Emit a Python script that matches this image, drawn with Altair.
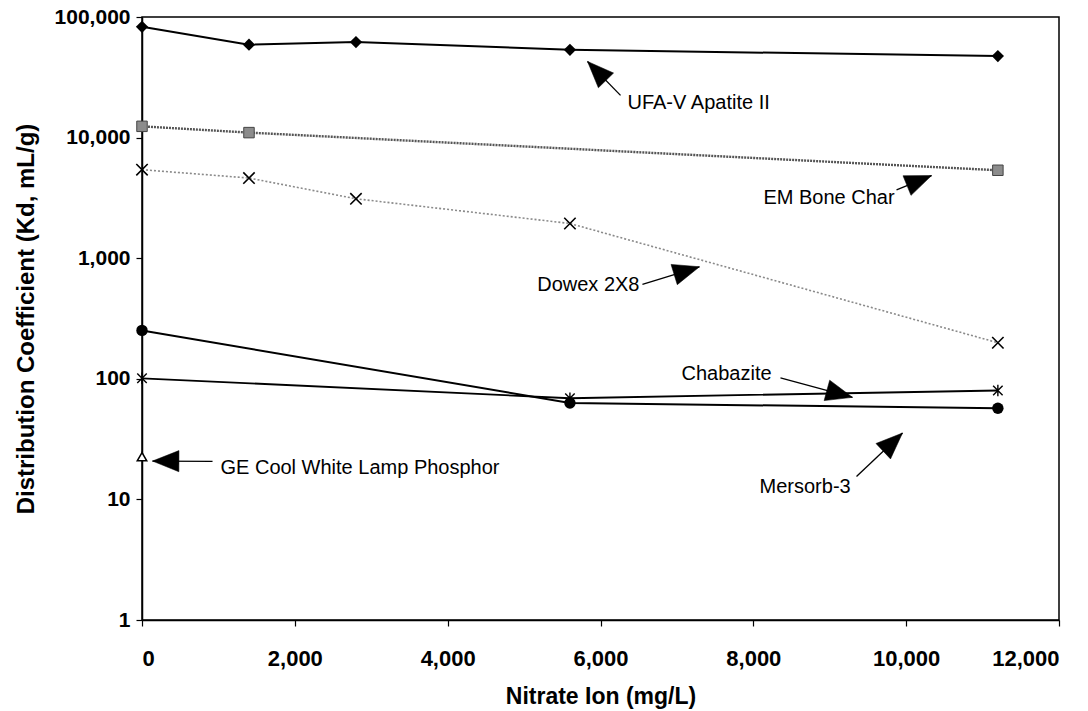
import math
import altair as alt
import pandas as pd

# ---------------- data ----------------
ufa_x = [0, 1400, 2800, 5600, 11200]
ufa_y = [83000, 59000, 62000, 53500, 47400]

bone_x = [0, 1400, 11200]
bone_y = [12400, 11000, 5360]

dowex_x = [0, 1400, 2800, 5600, 11200]
dowex_y = [5420, 4620, 3110, 1940, 199]

chab_x = [0, 5600, 11200]
chab_y = [101, 69, 80]

mers_x = [0, 5600, 11200]
mers_y = [252, 63, 57]

ge_x = [0]
ge_y = [22.6]

# annotations (data coordinates)
ann_label = ["UFA-V Apatite II", "EM Bone Char", "Dowex 2X8", "Chabazite",
             "Mersorb-3", "GE Cool White Lamp Phosphor"]
ann_text_x = [6353, 9848, 6510, 8239, 9274, 1027]
ann_text_y = [19300, 3160, 597, 109, 12.6, 18.2]
ann_align = ["left", "right", "right", "right", "right", "left"]
ann_tail_x = [6262, 9874, 6549, 8355, 9350, 923]
ann_tail_y = [22400, 3690, 608, 102, 15.5, 20.7]
ann_tip_x = [5830, 10332, 7295, 9297, 9952, 137]
ann_tip_y = [42800, 4840, 849, 70.2, 35.5, 20.8]

x_ticks = [0, 2000, 4000, 6000, 8000, 10000, 12000]
y_ticks = [1, 10, 100, 1000, 10000, 100000]

X_TITLE = "Nitrate Ion (mg/L)"
Y_TITLE = "Distribution Coefficient (Kd, mL/g)"

# ---------------- layout ----------------
W, H = 917, 603
FONT = "Liberation Sans"

xs = alt.Scale(domain=[0, 12000], nice=False)
ys = alt.Scale(type="log", domain=[1, 100000], nice=False)

X_AX = alt.Axis(values=x_ticks, labelExpr="format(datum.value, ',')", grid=False,
                tickSize=6, labelPadding=22, titlePadding=16,
                labelFontSize=22, titleFontSize=23)
Y_AX = alt.Axis(values=y_ticks, labelExpr="format(datum.value, ',')", grid=False,
                tickSize=6, labelPadding=6, titlePadding=16,
                labelFontSize=21, titleFontSize=24)


def X(field):
    return alt.X(field, scale=xs, axis=X_AX, title=X_TITLE)


def Y(field):
    return alt.Y(field, scale=ys, axis=Y_AX, title=Y_TITLE)


def sx(v):
    return v / 12000 * W


def sy(v):
    return (5 - math.log10(v)) / 5 * H


def series_df(xv, yv):
    return pd.DataFrame({"x": xv, "y": yv})


def line_layer(df, color, width, dash=None):
    kw = dict(color=color, strokeWidth=width, clip=False)
    if dash:
        kw["strokeDash"] = dash
    return alt.Chart(df).mark_line(**kw).encode(x=X("x:Q"), y=Y("y:Q"))


def point_layer(df, shape, size, filled, color, stroke=None, sw=1.5):
    kw = dict(shape=shape, size=size, filled=filled, opacity=1, clip=False)
    if filled:
        kw["fill"] = color
        if stroke:
            kw["stroke"] = stroke
            kw["strokeWidth"] = sw
    else:
        kw["stroke"] = color
        kw["strokeWidth"] = sw
        if stroke:
            kw["fill"] = stroke
    return alt.Chart(df).mark_point(**kw).encode(x=X("x:Q"), y=Y("y:Q"))


ufa = series_df(ufa_x, ufa_y)
bone = series_df(bone_x, bone_y)
dowex = series_df(dowex_x, dowex_y)
chab = series_df(chab_x, chab_y)
mers = series_df(mers_x, mers_y)
ge = series_df(ge_x, ge_y)

XMARK = "M-1,-1L1,1M1,-1L-1,1"
ASTER = "M-1,-1L1,1M1,-1L-1,1M0,-1.2L0,1.2"

layers = [
    line_layer(bone, "#555555", 2.4, [2, 1]),
    line_layer(dowex, "#8a8a8a", 1.6, [2, 2]),
    line_layer(ufa, "black", 2),
    line_layer(chab, "black", 1.8),
    line_layer(mers, "black", 2),
    point_layer(ufa, "diamond", 150, True, "black"),
    point_layer(bone, "square", 110, True, "#8c8c8c", stroke="#444", sw=1),
    point_layer(dowex, XMARK, 130, False, "black", sw=1.6),
    point_layer(chab, ASTER, 90, False, "black", sw=1.4),
    point_layer(mers, "circle", 130, True, "black"),
    point_layer(ge, "triangle-up", 90, False, "black", stroke="white", sw=1.5),
]

# arrows
ann = pd.DataFrame({
    "label": ann_label, "tx": ann_text_x, "ty": ann_text_y, "align": ann_align,
    "x1": ann_tail_x, "y1": ann_tail_y, "x2": ann_tip_x, "y2": ann_tip_y,
})
ann["angle"] = [
    math.degrees(math.atan2(-(sx(a) - sx(c)), (sy(b) - sy(d)))) % 360
    for a, b, c, d in zip(ann.x1, ann.y1, ann.x2, ann.y2)
]

shafts = alt.Chart(ann).mark_rule(color="black", strokeWidth=1.3).encode(
    x=X("x1:Q"), y=Y("y1:Q"), x2="x2:Q", y2="y2:Q",
)
heads = alt.Chart(ann).mark_point(
    shape="M0,0L0.4,1L-0.4,1Z", size=2800, filled=True, fill="black",
    opacity=1, stroke="black", strokeWidth=0.5,
).encode(
    x=X("x2:Q"), y=Y("y2:Q"),
    angle=alt.Angle("angle:Q", scale=None),
)
layers += [shafts, heads]

for al in ["left", "right"]:
    sub = ann[ann["align"] == al]
    layers.append(
        alt.Chart(sub).mark_text(align=al, baseline="middle", font=FONT,
                                 fontSize=20, color="black").encode(
            x=X("tx:Q"), y=Y("ty:Q"), text="label:N",
        )
    )

chart = alt.layer(*layers).properties(
    width=W, height=H,
    autosize=alt.AutoSizeParams(type="none"),
    padding={"left": 142, "top": 17, "right": 29, "bottom": 91},
    background="white",
).configure_view(
    stroke="black", strokeWidth=1.5
).configure_axis(
    labelFont=FONT, titleFont=FONT, labelFontWeight="bold", titleFontWeight="bold",
    labelColor="black", titleColor="black",
    domainColor="black", tickColor="black", domainWidth=1.5, tickWidth=1.2,
)

chart.save("out.html", embed_options={"renderer": "svg", "actions": False})
